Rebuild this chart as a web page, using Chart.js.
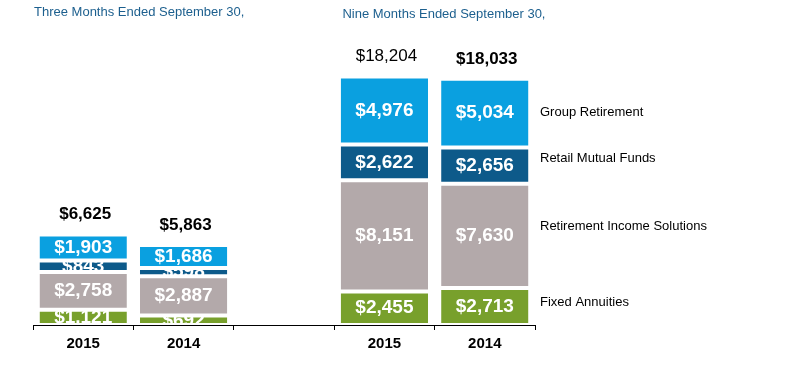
<!DOCTYPE html>
<html>
<head>
<meta charset="utf-8">
<script src="https://cdn.jsdelivr.net/npm/chart.js@4.4.0/dist/chart.umd.min.js"></script>
<style>
  html, body { margin: 0; padding: 0; background: #ffffff; }
  #wrap { width: 800px; height: 380px; position: relative; }
</style>
</head>
<body>
<div id="wrap"><canvas id="c" width="800" height="380"></canvas></div>
<script>
// ---- data ----
const categories = ['2015', '2014', '', '2015', '2014'];
const seriesNames = ['Fixed Annuities', 'Retirement Income Solutions', 'Retail Mutual Funds', 'Group Retirement'];
const fixedAnnuities = [1121, 692, null, 2455, 2713];
const retirementIncome = [2758, 2887, null, 8151, 7630];
const retailMutualFunds = [843, 598, null, 2622, 2656];
const groupRetirement = [1903, 1686, null, 4976, 5034];
const totals = [6625, 5863, null, 18204, 18033];
const totalBold = [true, true, false, false, true];
const periodTitles = ['Three Months Ended September 30,', 'Nine Months Ended September 30,'];
const colors = ['#78a02c', '#b3a9aa', '#0d5a8a', '#0aa0e0'];

const FONT = 'Arial, "Liberation Sans", Helvetica, sans-serif';
const fmt = v => '$' + v.toLocaleString('en-US');

const seriesData = [fixedAnnuities, retirementIncome, retailMutualFunds, groupRetirement];

const labelPlugin = {
  id: 'labels',
  afterDatasetsDraw(chart) {
    const ctx = chart.ctx;
    const area = chart.chartArea;
    // values inside segments (clipped to segment)
    chart.data.datasets.forEach((ds, di) => {
      const meta = chart.getDatasetMeta(di);
      meta.data.forEach((el, i) => {
        const v = ds.data[i];
        if (v == null) return;
        const p = el.getProps(['x', 'y', 'base', 'width'], true);
        const top = Math.min(p.y, p.base), bot = Math.max(p.y, p.base);
        ctx.save();
        ctx.beginPath();
        ctx.rect(p.x - p.width / 2, top, p.width, bot - top);
        ctx.clip();
        ctx.fillStyle = '#ffffff';
        ctx.font = 'bold 19px ' + FONT;
        ctx.textAlign = 'center';
        ctx.textBaseline = 'middle';
        ctx.fillText(fmt(v), p.x, (top + bot) / 2);
        ctx.restore();
      });
    });
    // totals above stacks
    const topMeta = chart.getDatasetMeta(chart.data.datasets.length - 1);
    totals.forEach((t, i) => {
      if (t == null) return;
      const el = topMeta.data[i];
      const p = el.getProps(['x', 'y'], true);
      ctx.save();
      ctx.fillStyle = '#000000';
      ctx.font = (totalBold[i] ? 'bold ' : '') + '17px ' + FONT;
      ctx.textAlign = 'center';
      ctx.textBaseline = 'middle';
      ctx.fillText(fmt(t), p.x + 2, p.y - 20);
      ctx.restore();
    });
    // series names to the right of last stack
    const lastIdx = categories.length - 1;
    const offs = [-4, -9, -7, -1];
    chart.data.datasets.forEach((ds, di) => {
      const el = chart.getDatasetMeta(di).data[lastIdx];
      const p = el.getProps(['y', 'base'], true);
      ctx.save();
      ctx.fillStyle = '#000000';
      ctx.font = '13px ' + FONT;
      ctx.textAlign = 'left';
      ctx.textBaseline = 'middle';
      ctx.fillText(ds.label, area.right + 5, (p.y + p.base) / 2 + offs[di]);
      ctx.restore();
    });
    // period titles
    const xs = chart.scales.x;
    ctx.save();
    ctx.fillStyle = '#1c5f8e';
    ctx.font = '13px ' + FONT;
    ctx.textAlign = 'left';
    ctx.textBaseline = 'middle';
    ctx.fillText(periodTitles[0], area.left + 1, 12);
    ctx.fillText(periodTitles[1], xs.getPixelForValue(3) - 42, 14);
    ctx.restore();
  }
};

new Chart(document.getElementById('c'), {
  type: 'bar',
  data: {
    labels: categories,
    datasets: seriesData.map((d, i) => ({
      label: seriesNames[i],
      data: d,
      backgroundColor: colors[i],
      borderColor: '#ffffff',
      borderWidth: { top: 2, bottom: 2, left: 0, right: 0 },
      borderSkipped: false,
      categoryPercentage: 1.0,
      barPercentage: 0.87
    }))
  },
  options: {
    responsive: false,
    animation: false,
    devicePixelRatio: 1,
    layout: { padding: { left: 33, right: 265, top: 52, bottom: 22 } },
    plugins: { legend: { display: false }, tooltip: { enabled: false }, title: { display: false } },
    scales: {
      x: {
        stacked: true,
        grid: { display: true, drawOnChartArea: false, drawTicks: true, tickLength: 5, color: '#000000', offset: true },
        border: { display: true, color: '#000000', width: 1 },
        ticks: { color: '#000000', font: { family: FONT, size: 15, weight: 'bold' }, padding: 5, maxRotation: 0 }
      },
      y: {
        stacked: true,
        display: false,
        min: 0,
        max: 20000
      }
    }
  },
  plugins: [labelPlugin]
});
</script>
</body>
</html>
